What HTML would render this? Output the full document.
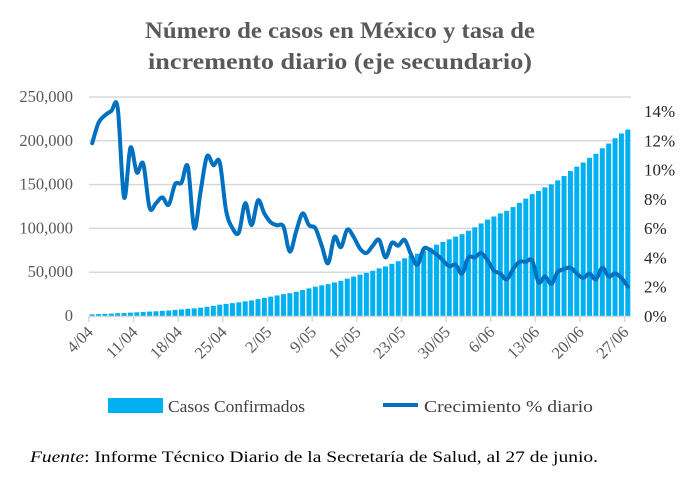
<!DOCTYPE html>
<html><head><meta charset="utf-8"><style>
body{margin:0;background:#fff;width:680px;height:473px;overflow:hidden;font-family:"Liberation Serif",serif;}
</style></head><body>
<svg id="c" width="680" height="473" xmlns="http://www.w3.org/2000/svg">
<text x="340" y="38" text-anchor="middle" font-size="23" font-weight="bold" fill="#595959" textLength="390" lengthAdjust="spacingAndGlyphs">Número de casos en México y tasa de</text>
<text x="340" y="69" text-anchor="middle" font-size="23" font-weight="bold" fill="#595959" textLength="384" lengthAdjust="spacingAndGlyphs">incremento diario (eje secundario)</text>
<g id="grid"></g><g id="bars"></g><g id="axes"></g><g id="line"></g>
<rect x="108" y="398" width="55" height="15" fill="#00b0f0"/>
<text x="168" y="412" font-size="17" fill="#404040" textLength="137" lengthAdjust="spacingAndGlyphs">Casos Confirmados</text>
<line x1="383" y1="405" x2="418" y2="405" stroke="#0070c0" stroke-width="4"/>
<text x="424" y="412" font-size="17" fill="#404040" textLength="169" lengthAdjust="spacingAndGlyphs">Crecimiento % diario</text>
<text x="30" y="462" font-size="16" fill="#000" textLength="568" lengthAdjust="spacingAndGlyphs"><tspan font-style="italic">Fuente</tspan>: Informe Técnico Diario de la Secretaría de Salud, al 27 de junio.</text>
</svg>
<script>
const cases=[1890,2143,2439,2785,3181,3441,3844,4219,4661,5014,5399,5847,6297,6875,7497,8261,8772,9501,10544,11633,12872,13842,14677,15529,16752,17799,19224,20739,22088,23471,24905,26025,27634,29616,31522,33460,35022,36327,38324,40186,42595,45032,47144,49219,51633,54346,56594,59567,62527,65856,68620,71105,74560,78023,81400,84627,87512,90664,93435,97326,101238,105680,110026,113619,117103,120102,124301,129184,133974,139196,142690,146837,150264,154863,159793,165455,170485,175202,180545,185122,191410,196847,202951,208392,212802];
const growth=[11.8,13.2,13.7,14.0,14.2,8.1,11.5,9.8,10.4,7.4,7.7,8.1,7.6,9.0,9.1,10.2,6.0,8.5,10.9,10.3,10.5,7.2,6.0,5.7,7.7,6.2,7.9,7.0,6.4,6.2,6.1,4.4,5.8,7.0,6.2,6.0,4.8,3.6,5.4,4.7,5.9,5.4,4.6,4.3,4.8,5.2,4.0,5.0,4.8,5.2,4.2,3.5,4.6,4.5,4.2,3.8,3.4,3.5,2.9,4.0,4.0,4.3,3.8,3.1,2.9,2.5,3.2,3.7,3.7,3.8,2.3,2.7,2.2,3.0,3.2,3.3,2.9,2.6,2.9,2.5,3.3,2.7,2.9,2.6,2.0];
const leftTicks=[0,50000,100000,150000,200000,250000];
const rightTicks=[0,2,4,6,8,10,12,14];
const xTickLabels=["4/04","11/04","18/04","25/04","2/05","9/05","16/05","23/05","30/05","6/06","13/06","20/06","27/06"];
const NS="http://www.w3.org/2000/svg";
const X0=89,X1=631,Y0=316,Y1=97;
const n=cases.length, bw=(X1-X0)/n;
const yL=v=>Y0-v/250000*(Y0-Y1);
const yR=v=>Y0-v/14*(Y0-111);
const xC=i=>X0+bw*(i+0.5);
function mk(tag,attrs,parent,txt){const e=document.createElementNS(NS,tag);for(const k in attrs)e.setAttribute(k,attrs[k]);if(txt!==undefined)e.textContent=txt;document.getElementById(parent).appendChild(e);return e;}
leftTicks.forEach(t=>{
 const y=yL(t);
 if(t>0){const g=mk('line',{x1:X0,x2:X1,y1:y,y2:y,stroke:'#d9d9d9','stroke-width':1.5},'grid');
 
 }
 const l=mk('text',{x:73,y:y+5,'text-anchor':'end','font-size':16.5,fill:'#595959'},'axes',t.toLocaleString('en-US'));
 
 
});
rightTicks.forEach(t=>{
 const l=mk('text',{x:644,y:yR(t)+6,'font-size':17,fill:'#262626'},'axes',t+'%');
 
 
});
cases.forEach((v,i)=>{
 const r=mk('rect',{x:X0+bw*i+0.7,y:yL(v),width:bw-1.4,height:Y0-yL(v),fill:'#00b0f0'},'bars');
 
 
});
const ax=mk('line',{x1:X0,x2:X1,y1:Y0+0.5,y2:Y0+0.5,stroke:'#d9d9d9','stroke-width':1.5},'axes');


xTickLabels.forEach((s,k)=>{
 const x=X0+bw*7*k;
 const tk=mk('line',{x1:x,x2:x,y1:Y0,y2:Y0+6,stroke:'#d9d9d9','stroke-width':1.5},'axes');
 
 
 const l=mk('text',{x:x+5,y:Y0+17,'text-anchor':'end','font-size':16.5,fill:'#595959',transform:`rotate(-45 ${x+5} ${Y0+17})`},'axes',s);
 
 
});
const pts=growth.map((v,i)=>[xC(i),yR(v)]);
let d='M'+pts[0][0]+','+pts[0][1];
for(let i=0;i<pts.length-1;i++){
 const p0=pts[Math.max(0,i-1)],p1=pts[i],p2=pts[i+1],p3=pts[Math.min(pts.length-1,i+2)];
 const c1=[p1[0]+(p2[0]-p0[0])/6,p1[1]+(p2[1]-p0[1])/6],c2=[p2[0]-(p3[0]-p1[0])/6,p2[1]-(p3[1]-p1[1])/6];
 d+=`C${c1[0]},${c1[1]} ${c2[0]},${c2[1]} ${p2[0]},${p2[1]}`;
}
const ln=mk('path',{d:d,fill:'none',stroke:'#0070c0','stroke-width':4,'stroke-linejoin':'round','stroke-linecap':'round'},'line');


</script>
</body></html>
